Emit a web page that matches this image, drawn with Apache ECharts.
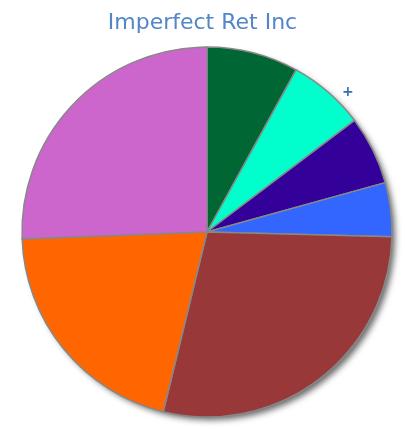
<!DOCTYPE html>
<html>
<head>
<meta charset="utf-8">
<script src="https://cdn.jsdelivr.net/npm/echarts@6/dist/echarts.min.js"></script>
<style>
  html, body { margin: 0; padding: 0; background: #fff; }
  #chart { width: 405px; height: 429px; }
</style>
</head>
<body>
<div id="chart"></div>
<script>
// slice names, values (percent) and colours, clockwise from 12 o'clock
var names = ['A', 'B', 'C', 'D', 'E', 'F', 'G'];
var values = [8.0, 6.7, 6.0, 4.7, 28.4, 20.6, 25.6];
var colors = ['#006633', '#00ffcc', '#330099', '#3366ff', '#993838', '#ff6600', '#cc66cc'];

var chart = echarts.init(document.getElementById('chart'), null, { renderer: 'canvas' });

var data = [];
for (var i = 0; i < values.length; i++) {
    data.push({ name: names[i], value: values[i], itemStyle: { color: colors[i] } });
}

var option = {
    animation: false,
    title: {
        text: 'Imperfect Ret Inc',
        left: 'center',
        top: 7,
        textStyle: {
            color: '#5286c9',
            fontSize: 22,
            fontWeight: 'normal',
            fontFamily: 'DejaVu Sans'
        }
    },
    graphic: [
        {
            type: 'text',
            left: 342,
            top: 85,
            style: { text: '+', fill: '#3a6db5', font: 'bold 14px DejaVu Sans' }
        }
    ],
    series: [
        {
            // shadow disc behind the pie
            type: 'pie',
            silent: true,
            center: [207, 232],
            radius: 184,
            label: { show: false },
            labelLine: { show: false },
            itemStyle: {
                color: '#888',
                shadowBlur: 6,
                shadowOffsetX: 4,
                shadowOffsetY: 4,
                shadowColor: 'rgba(0,0,0,0.6)'
            },
            data: [1]
        },
        {
            type: 'pie',
            center: [207, 232],
            radius: 185,
            startAngle: 90,
            clockwise: true,
            label: { show: false },
            labelLine: { show: false },
            itemStyle: { borderColor: '#888', borderWidth: 1.5 },
            data: data
        }
    ]
};

chart.setOption(option);
</script>
</body>
</html>
